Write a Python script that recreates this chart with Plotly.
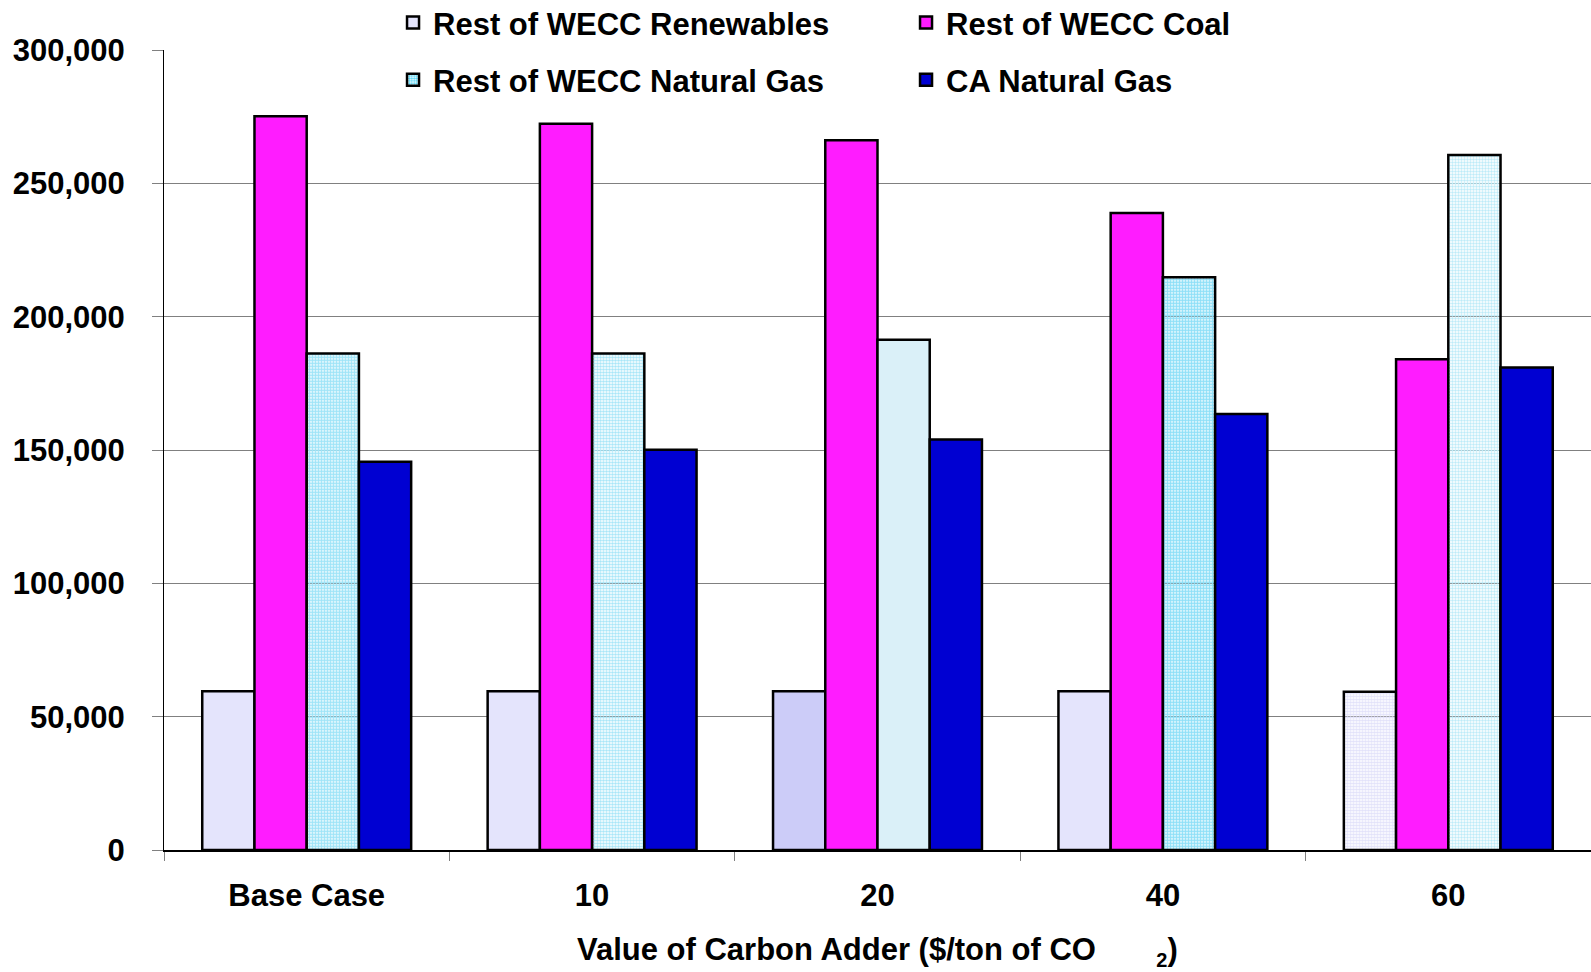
import plotly.graph_objects as go

# ---------------- data ----------------
categories = ["Base Case", "10", "20", "40", "60"]
renewables = [59500, 59500, 59500, 59500, 59300]
coal = [275200, 272300, 266200, 238900, 184000]
natural_gas = [186200, 186200, 191300, 214800, 260600]
ca_natural_gas = [145600, 150100, 153900, 163500, 180900]

y_ticks = [0, 50000, 100000, 150000, 200000, 250000, 300000]
y_tick_labels = ["0", "50,000", "100,000", "150,000", "200,000", "250,000", "300,000"]

series_names = ["Rest of WECC Renewables", "Rest of WECC Coal",
                "Rest of WECC Natural Gas", "CA Natural Gas"]
x_title = ("Value of Carbon Adder ($/ton of CO       "
           "<sub><span style='font-size:20px'>2</span></sub>)")

# ---------------- styles ----------------
FONT = dict(family="Liberation Sans, Arial, sans-serif", size=31, color="black", weight="bold")
OUTLINE = dict(color="black", width=2.5)

ren_colors = ["#E4E4FC", "#E4E4FC", "#CCCCF8", "#E4E4FC", "#E2E2FA"]
ren_pattern = dict(shape=["", "", "", "", "."], fgcolor=["#C8C8F6"] * 5,
                   bgcolor=["#FFFFFF"] * 5, size=3, solidity=0.62, fillmode="replace")

ng_colors = ["#9EE4F8", "#A8E6F8", "#DAF0F8", "#8EE0F8", "#BDEBF8"]
ng_pattern = dict(shape=[".", ".", "", ".", "."],
                  fgcolor=["#4CD4F6", "#5CD8F6", "#DAF0F8", "#44D2F6", "#80DCF6"],
                  bgcolor=["#FFFFFF"] * 5, size=3,
                  solidity=[0.68, 0.58, 0.5, 0.7, 0.5], fillmode="replace")

fig = go.Figure()
fig.add_trace(go.Bar(x=categories, y=renewables, name=series_names[0], legend="legend",
                     marker=dict(color=ren_colors, line=OUTLINE, pattern=ren_pattern)))
fig.add_trace(go.Bar(x=categories, y=coal, name=series_names[1], legend="legend",
                     marker=dict(color="#FF1CFF", line=OUTLINE)))
fig.add_trace(go.Bar(x=categories, y=natural_gas, name=series_names[2], legend="legend2",
                     marker=dict(color=ng_colors, line=OUTLINE, pattern=ng_pattern)))
fig.add_trace(go.Bar(x=categories, y=ca_natural_gas, name=series_names[3], legend="legend2",
                     marker=dict(color="#0000D2", line=OUTLINE)))

legend_common = dict(orientation="h", xanchor="left", yanchor="middle", x=0.1605,
                     entrywidth=468, font=FONT, bgcolor="rgba(0,0,0,0)", borderwidth=0,
                     traceorder="normal")

fig.update_layout(
    width=1591, height=972,
    margin=dict(l=164, r=0, t=50, b=122, autoexpand=False),
    paper_bgcolor="white", plot_bgcolor="white",
    barmode="group", bargap=0.268, bargroupgap=0,
    font=FONT,
    legend=dict(y=1.034, **legend_common),
    legend2=dict(y=0.9625, **legend_common),
    xaxis=dict(type="category", tickson="boundaries", ticks="outside", ticklen=9,
               tickcolor="#808080", tickwidth=1, showline=True, linecolor="black",
               linewidth=2, showgrid=False, tickfont=FONT, ticklabelstandoff=17),
    yaxis=dict(range=[0, 300000], tickvals=y_ticks, ticktext=y_tick_labels,
               ticks="outside", ticklen=11, tickcolor="#808080", tickwidth=1,
               showgrid=True, gridcolor="#808080", gridwidth=1, zeroline=False,
               showline=True, linecolor="black", linewidth=1, tickfont=FONT,
               ticklabelstandoff=21),
    shapes=[dict(type="rect", xref="paper", yref="paper", x0=0.148, x1=0.868,
                 y0=0.985, y1=1.015, fillcolor="white", line=dict(width=0), layer="above")],
    annotations=[dict(text=x_title, xref="paper", yref="paper", x=0.5, y=-0.127,
                      xanchor="center", yanchor="middle", showarrow=False, font=FONT)],
)

fig.write_html("out.html", config={"displayModeBar": False},
               post_script="document.body.style.margin='0';document.body.style.overflow='hidden';")
